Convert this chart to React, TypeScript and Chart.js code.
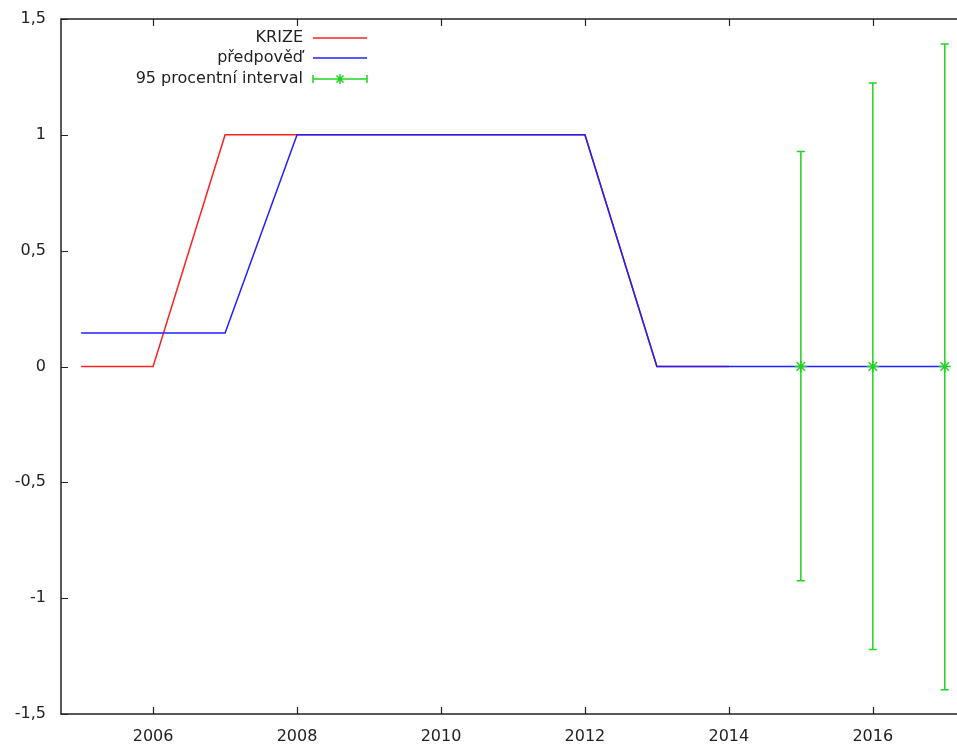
import React, { useEffect, useRef } from "react";
import { Chart, registerables } from "chart.js";

Chart.register(...registerables);

const years = [2005, 2006, 2007, 2008, 2009, 2010, 2011, 2012, 2013, 2014, 2015, 2016, 2017];
const krize = [0, 0, 1, 1, 1, 1, 1, 1, 0, 0];
const predpoved = [0.145, 0.145, 0.145, 1, 1, 1, 1, 1, 0, 0, 0, 0, 0];
const intervalYears = [2015, 2016, 2017];
const intervalMid = [0, 0, 0];
const intervalLow = [-0.925, -1.222, -1.395];
const intervalHigh = [0.928, 1.224, 1.392];
const xTickValues = [2006, 2008, 2010, 2012, 2014, 2016];
const yTickValues = [-1.5, -1, -0.5, 0, 0.5, 1, 1.5];
const legendLabels = ["KRIZE", "předpověď", "95 procentní interval"];

const RED = "#ff2020";
const BLUE = "#2020ff";
const GREEN = "#22d422";
const FONT = "DejaVu Sans";

const framePlugin = {
  id: "framePlugin",
  afterDatasetsDraw(chart: any) {
    const { ctx, chartArea, scales } = chart;
    const { left, right, top, bottom } = chartArea;
    const xs = scales.x;
    const ys = scales.y;
    ctx.save();
    // error bars
    ctx.strokeStyle = GREEN;
    ctx.lineWidth = 1.5;
    intervalYears.forEach((yr, i) => {
      const px = xs.getPixelForValue(yr);
      const pLo = ys.getPixelForValue(intervalLow[i]);
      const pHi = ys.getPixelForValue(intervalHigh[i]);
      ctx.beginPath();
      ctx.moveTo(px, pLo);
      ctx.lineTo(px, pHi);
      ctx.moveTo(px - 4, pLo);
      ctx.lineTo(px + 4, pLo);
      ctx.moveTo(px - 4, pHi);
      ctx.lineTo(px + 4, pHi);
      ctx.stroke();
    });
    // frame
    ctx.strokeStyle = "#222";
    ctx.lineWidth = 1.5;
    ctx.beginPath();
    ctx.moveTo(right + 2, top);
    ctx.lineTo(left, top);
    ctx.lineTo(left, bottom);
    ctx.lineTo(right + 2, bottom);
    ctx.stroke();
    ctx.lineWidth = 1.2;
    ctx.beginPath();
    xTickValues.forEach((v) => {
      const px = Math.round(xs.getPixelForValue(v)) + 0.5;
      ctx.moveTo(px, bottom);
      ctx.lineTo(px, bottom - 7);
      ctx.moveTo(px, top);
      ctx.lineTo(px, top + 7);
    });
    yTickValues.forEach((v) => {
      const py = Math.round(ys.getPixelForValue(v)) + 0.5;
      ctx.moveTo(left, py);
      ctx.lineTo(left + 7, py);
    });
    ctx.stroke();
    // legend
    ctx.font = `16px "${FONT}"`;
    ctx.fillStyle = "#222";
    ctx.textAlign = "right";
    ctx.textBaseline = "middle";
    const rows = [38, 58, 79];
    const colors = [RED, BLUE, GREEN];
    legendLabels.forEach((lab, i) => {
      ctx.fillText(lab, 303, rows[i]);
      ctx.strokeStyle = colors[i];
      ctx.lineWidth = 1.5;
      ctx.beginPath();
      ctx.moveTo(313, rows[i]);
      ctx.lineTo(367, rows[i]);
      if (i === 2) {
        ctx.moveTo(313, rows[i] - 4);
        ctx.lineTo(313, rows[i] + 4);
        ctx.moveTo(367, rows[i] - 4);
        ctx.lineTo(367, rows[i] + 4);
        const cx = 340, cy = rows[i], r = 5;
        ctx.moveTo(cx - r, cy);
        ctx.lineTo(cx + r, cy);
        ctx.moveTo(cx, cy - r);
        ctx.lineTo(cx, cy + r);
        ctx.moveTo(cx - r * 0.7, cy - r * 0.7);
        ctx.lineTo(cx + r * 0.7, cy + r * 0.7);
        ctx.moveTo(cx - r * 0.7, cy + r * 0.7);
        ctx.lineTo(cx + r * 0.7, cy - r * 0.7);
      }
      ctx.stroke();
    });
    ctx.restore();
  },
};

export default function App() {
  const ref = useRef<HTMLCanvasElement>(null);
  useEffect(() => {
    document.body.style.margin = "0";
    const chart = new Chart(ref.current as HTMLCanvasElement, {
      type: "line",
      data: {
        datasets: [
          {
            label: legendLabels[1],
            data: predpoved.map((v, i) => ({ x: years[i], y: v })),
            borderColor: BLUE,
            borderWidth: 1.5,
            pointRadius: 0,
            order: 1,
          },
          {
            label: legendLabels[0],
            data: krize.map((v, i) => ({ x: years[i], y: v })),
            borderColor: RED,
            borderWidth: 1.5,
            pointRadius: 0,
            order: 2,
          },
          {
            label: legendLabels[2],
            data: intervalMid.map((v, i) => ({ x: intervalYears[i], y: v })),
            showLine: false,
            borderColor: GREEN,
            backgroundColor: GREEN,
            pointStyle: "star",
            pointRadius: 6,
            pointBorderWidth: 1.5,
            order: 0,
          },
        ],
      },
      options: {
        animation: false,
        responsive: false,
        layout: { autoPadding: false, padding: { top: 19, left: 0, right: 0, bottom: 0 } },
        plugins: { legend: { display: false }, tooltip: { enabled: false } },
        scales: {
          x: {
            type: "linear",
            min: 2004.72,
            max: 2017.17,
            grid: { display: false, drawTicks: false },
            border: { display: false },
            afterBuildTicks: (s: any) => {
              s.ticks = xTickValues.map((v) => ({ value: v }));
            },
            afterFit: (s: any) => {
              s.height = 33;
              s.paddingLeft = 0;
              s.paddingRight = 0;
            },
            ticks: {
              padding: 13,
              color: "#222",
              font: { family: FONT, size: 16 },
              callback: (v: any) => String(v),
              maxRotation: 0,
            },
          },
          y: {
            type: "linear",
            min: -1.5,
            max: 1.5,
            grid: { display: false, drawTicks: false },
            border: { display: false },
            afterBuildTicks: (s: any) => {
              s.ticks = yTickValues.map((v) => ({ value: v }));
            },
            afterFit: (s: any) => {
              s.width = 61;
              s.paddingTop = 0;
              s.paddingBottom = 0;
            },
            ticks: {
              padding: 15,
              color: "#222",
              font: { family: FONT, size: 16 },
              callback: (v: any) => String(v).replace(".", ","),
            },
          },
        },
      },
      plugins: [framePlugin],
    });
    return () => chart.destroy();
  }, []);
  return (
    <div style={{ width: 957, height: 747 }}>
      <canvas ref={ref} width={957} height={747} style={{ display: "block" }} />
    </div>
  );
}
